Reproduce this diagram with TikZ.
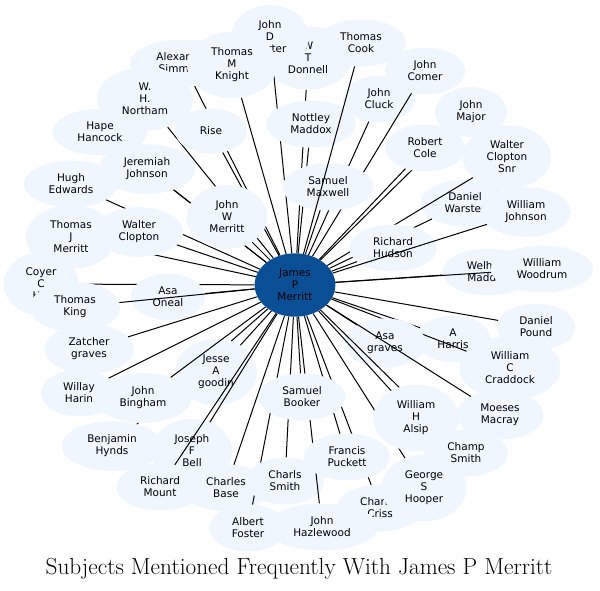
\documentclass[tikz,border=0pt]{standalone}
\usepackage{xcolor}
\usepackage{fontspec}
\newfontfamily\labelfont{DejaVu Sans}
\usetikzlibrary{shapes}
\definecolor{leafblue}{HTML}{F0F6FE}
\definecolor{hubblue}{HTML}{0A4F96}

\begin{document}
\begin{tikzpicture}[x=1pt, y=-1pt,
            leaf/.style={ellipse, fill=leafblue, align=center, inner xsep=11pt, inner ysep=6.5pt,
                minimum width=72pt, minimum height=45pt, font=\labelfont\fontsize{10.5}{12}\selectfont},
            hub/.style={leaf, fill=hubblue},
            link/.style={line width=1pt},
            caption/.style={font=\fontsize{23.3}{27}\selectfont}]

            \useasboundingbox (0,0) rectangle (600,590);

            \node[hub] (jpm) at (295,285) {James\\P\\Merritt};

            \node[leaf] (hape) at (100,132) {Hape\\Hancock};
            \draw[link] (jpm) -- (hape);
            \node[leaf] (hugh) at (71,184) {Hugh\\Edwards};
            \draw[link] (jpm) -- (hugh);
            \node[leaf] (coyer) at (41,284) {Coyer\\C\\Hill};
            \draw[link] (jpm) -- (coyer);
            \node[leaf] (tjmerritt) at (71,237) {Thomas\\J\\Merritt};
            \draw[link] (jpm) -- (tjmerritt);
            \node[leaf] (jeremiah) at (147,169) {Jeremiah\\Johnson};
            \draw[link] (jpm) -- (jeremiah);
            \node[leaf] (simmons) at (183,63) {Alexander\\Simmons};
            \draw[link] (jpm) -- (simmons);
            \node[leaf] (northam) at (145,99) {W.\\H.\\Northam};
            \draw[link] (jpm) -- (northam);
            \node[leaf] (donnell) at (308,58) {W\\T\\Donnell};
            \draw[link] (jpm) -- (donnell);
            \node[leaf] (carter) at (270,37) {John\\D\\Carter};
            \draw[link] (jpm) -- (carter);
            \node[leaf] (knight) at (232,65) {Thomas\\M\\Knight};
            \draw[link] (jpm) -- (knight);
            \node[leaf] (rise) at (211,131) {Rise};
            \draw[link] (jpm) -- (rise);
            \node[leaf] (jwmerritt) at (227,217) {John\\W\\Merritt};
            \draw[link] (jpm) -- (jwmerritt);
            \node[leaf] (clopton) at (139,232) {Walter\\Clopton};
            \draw[link] (jpm) -- (clopton);
            \node[leaf] (cluck) at (379,99) {John\\Cluck};
            \draw[link] (jpm) -- (cluck);
            \node[leaf] (comer) at (425,71) {John\\Comer};
            \draw[link] (jpm) -- (comer);
            \node[leaf] (nottley) at (311,124) {Nottley\\Maddox};
            \draw[link] (jpm) -- (nottley);
            \node[leaf] (maxwell) at (328,187) {Samuel\\Maxwell};
            \draw[link] (jpm) -- (maxwell);
            \node[leaf] (cook) at (361,43) {Thomas\\Cook};
            \draw[link] (jpm) -- (cook);
            \node[leaf] (major) at (471,112) {John\\Major};
            \draw[link] (jpm) -- (major);
            \node[leaf] (cole) at (425,148) {Robert\\Cole};
            \draw[link] (jpm) -- (cole);
            \node[leaf] (warster) at (465,203) {Daniel\\Warster};
            \draw[link] (jpm) -- (warster);
            \node[leaf] (cloptonsnr) at (507,157) {Walter\\Clopton\\Snr};
            \draw[link] (jpm) -- (cloptonsnr);
            \node[leaf] (hudson) at (393,248) {Richard\\Hudson};
            \draw[link] (jpm) -- (hudson);
            \node[leaf] (wjohnson) at (526,212) {William\\Johnson};
            \draw[link] (jpm) -- (wjohnson);
            \node[leaf] (welham) at (488,272) {Welham\\Maddox};
            \draw[link] (jpm) -- (welham);
            \node[leaf] (woodrum) at (542,269) {William\\Woodrum};
            \draw[link] (jpm) -- (woodrum);
            \node[leaf] (pound) at (536,327) {Daniel\\Pound};
            \draw[link] (jpm) -- (pound);
            \node[leaf] (harris) at (453,339) {A\\Harris};
            \draw[link] (jpm) -- (harris);
            \node[leaf] (craddock) at (510,368) {William\\C\\Craddock};
            \draw[link] (jpm) -- (craddock);
            \node[leaf] (asagraves) at (385,343) {Asa\\graves};
            \draw[link] (jpm) -- (asagraves);
            \node[leaf] (macray) at (500,415) {Moeses\\Macray};
            \draw[link] (jpm) -- (macray);
            \node[leaf] (oneal) at (168,297) {Asa\\Oneal};
            \draw[link] (jpm) -- (oneal);
            \node[leaf] (king) at (75,307) {Thomas\\King};
            \draw[link] (jpm) -- (king);
            \node[leaf] (zatcher) at (89,349) {Zatcher\\graves};
            \draw[link] (jpm) -- (zatcher);
            \node[leaf] (harin) at (79,393) {Willay\\Harin};
            \draw[link] (jpm) -- (harin);
            \node[leaf] (hynds) at (112,446) {Benjamin\\Hynds};
            \draw[link] (jpm) -- (hynds);
            \node[leaf] (goodin) at (216,372) {Jesse\\A\\goodin};
            \draw[link] (jpm) -- (goodin);
            \node[leaf] (bingham) at (143,398) {John\\Bingham};
            \draw[link] (jpm) -- (bingham);
            \node[leaf] (bell) at (192,451) {Joseph\\F\\Bell};
            \draw[link] (jpm) -- (bell);
            \node[leaf] (base) at (226,488) {Charles\\Base};
            \draw[link] (jpm) -- (base);
            \node[leaf] (mount) at (160,487) {Richard\\Mount};
            \draw[link] (jpm) -- (mount);
            \node[leaf] (foster) at (248,528) {Albert\\Foster};
            \draw[link] (jpm) -- (foster);
            \node[leaf] (charls) at (285,481) {Charls\\Smith};
            \draw[link] (jpm) -- (charls);
            \node[leaf] (criss) at (380,508) {Charles\\Criss};
            \draw[link] (jpm) -- (criss);
            \node[leaf] (hazlewood) at (322,527) {John\\Hazlewood};
            \draw[link] (jpm) -- (hazlewood);
            \node[leaf] (puckett) at (347,457) {Francis\\Puckett};
            \draw[link] (jpm) -- (puckett);
            \node[leaf] (booker) at (302,397) {Samuel\\Booker};
            \draw[link] (jpm) -- (booker);
            \node[leaf] (champ) at (466,453) {Champ\\Smith};
            \draw[link] (jpm) -- (champ);
            \node[leaf] (hooper) at (424,488) {George\\S\\Hooper};
            \draw[link] (jpm) -- (hooper);
            \node[leaf] (alsip) at (416,418) {William\\H\\Alsip};
            \draw[link] (jpm) -- (alsip);

            \node[caption] (title) at (299,569) {Subjects Mentioned Frequently With James P Merritt};
        \end{tikzpicture}
\end{document}
